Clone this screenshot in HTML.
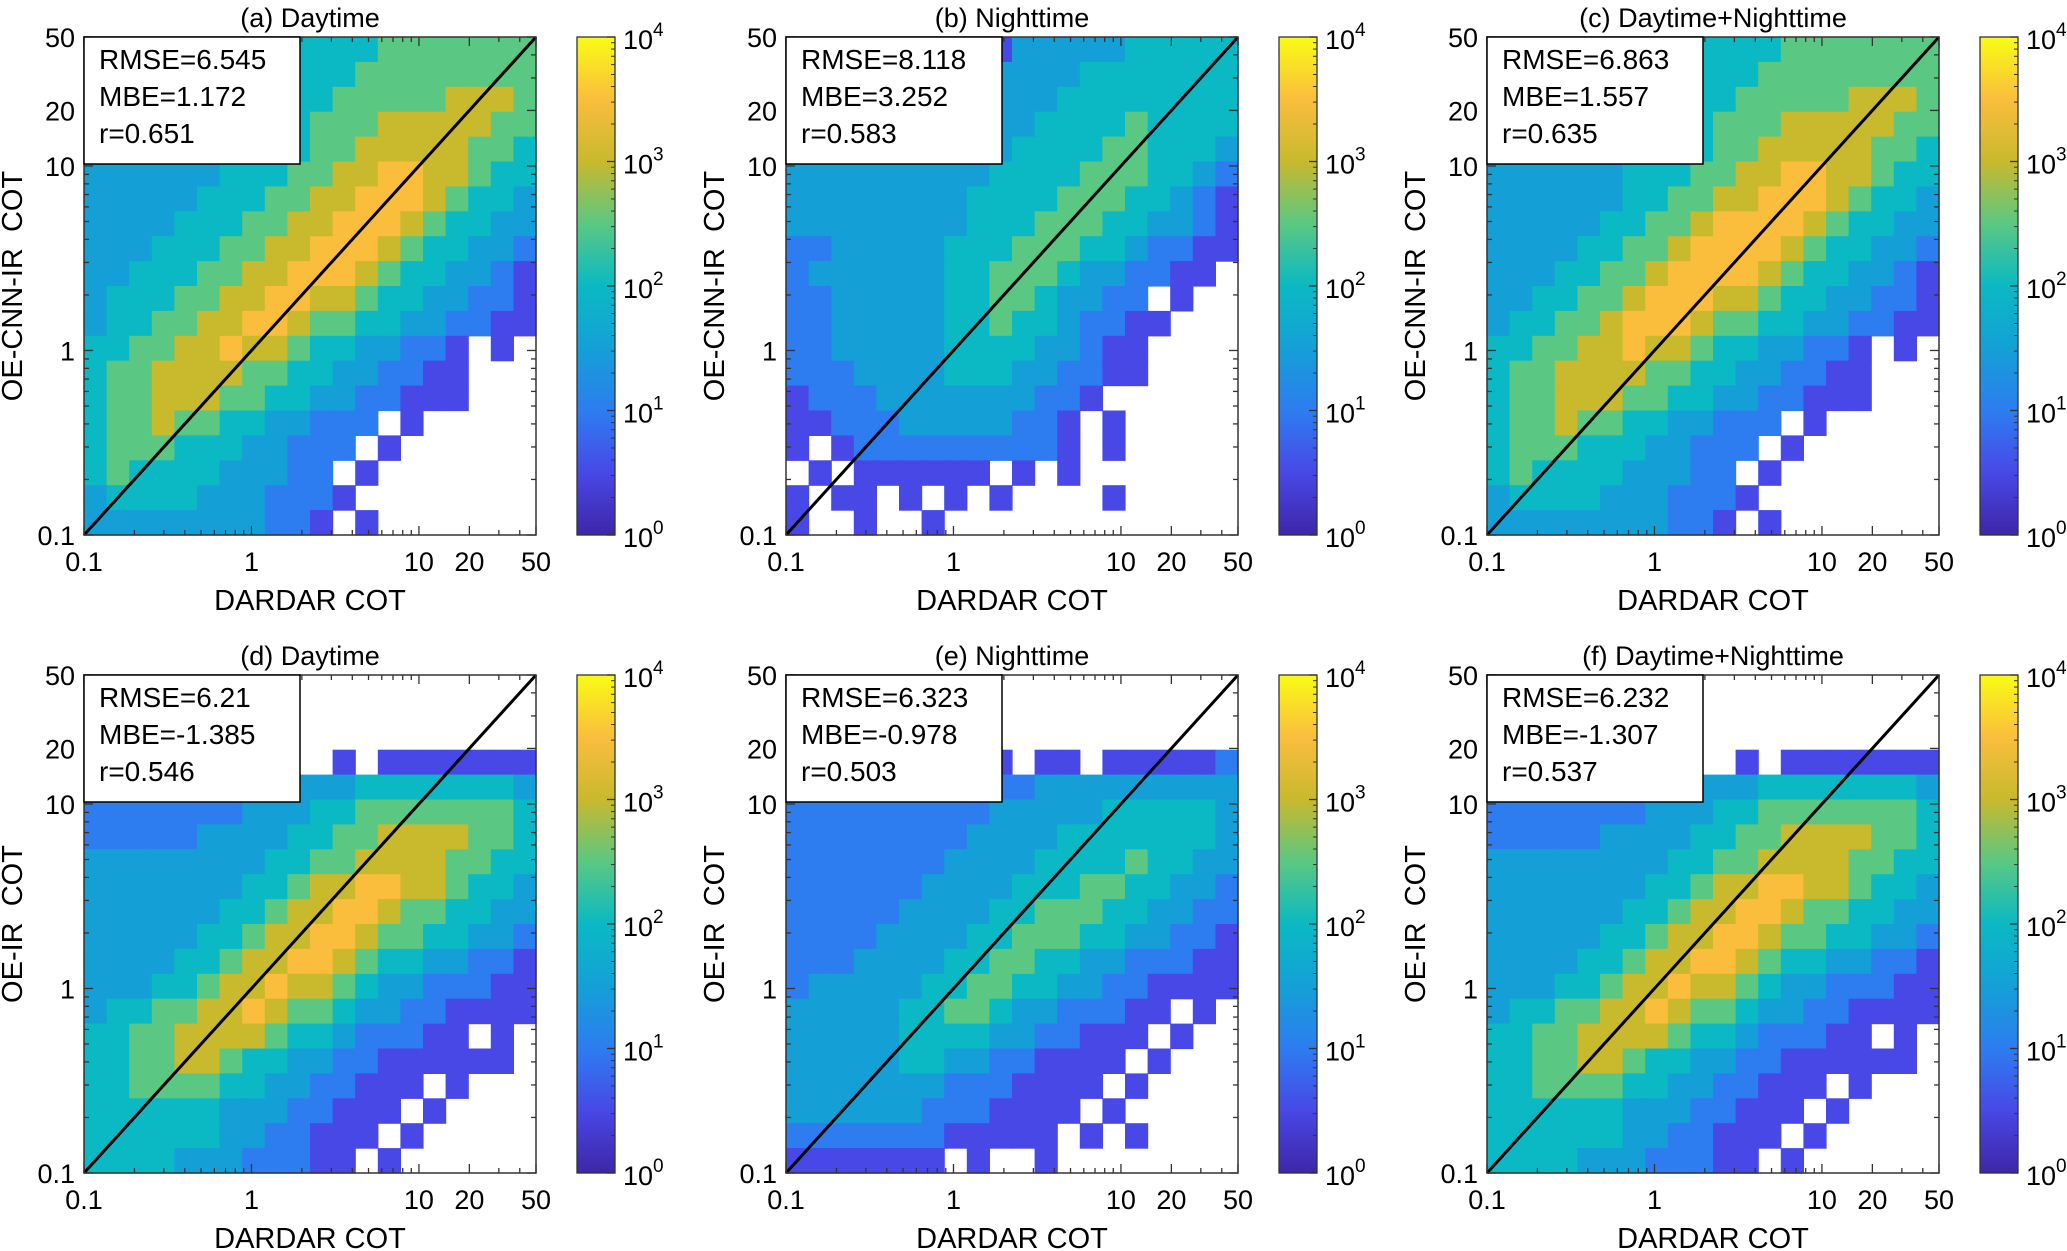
<!DOCTYPE html>
<html><head><meta charset="utf-8">
<style>
html,body{margin:0;padding:0;background:#fff;}
svg{display:block;font-family:"Liberation Sans",Arial,sans-serif;}
text{white-space:pre;}
</style></head>
<body>
<svg id="fig" width="2067" height="1251" viewBox="0 0 2067 1251" xmlns="http://www.w3.org/2000/svg"></svg>
<script>
// ---- data (levels: 2*log10(count), '.' = no samples); rows top (COT 50) -> bottom (COT 0.1)
const titles = ["(a) Daytime","(b) Nighttime","(c) Daytime+Nighttime","(d) Daytime","(e) Nighttime","(f) Daytime+Nighttime"];
const ylabels = ["OE-CNN-IR  COT","OE-CNN-IR  COT","OE-CNN-IR  COT","OE-IR  COT","OE-IR  COT","OE-IR  COT"];
const rmse = ["6.545","8.118","6.863","6.21","6.323","6.232"];
const mbe = ["1.172","3.252","1.557","-1.385","-0.978","-1.307"];
const rval = ["0.651","0.583","0.635","0.546","0.503","0.537"];
const xTicks = [0.1,1,10,20,50];
const xTickLabels = ["0.1","1","10","20","50"];
const minorTicks = [0.2,0.3,0.4,0.5,0.6,0.7,0.8,0.9,2,3,4,5,6,7,8,9,30,40];
const cbTicks = [0,1,2,3,4];
const gridA = [
"33333334444445555555","33333334444455555555","33333334444555556665","33333344445556666655",
"33333344445566666554","33333344455667766544","33333444556677765443","33334445566777654433",
"33344455667776544332","33444556677765443321","34445566776654433221","34455667765544332211",
"44556676654433221.1.","45566665544332211...","45566655443322111...","4556554433222.1.....",
"455544433222.1......","45444433322.1.......","344443332221........","33333333221.1......."];
const gridB = [
"33333332213333344444","33333333333334444444","33333333333344444444","33333333333444454444",
"33333333334444554443","33333333344445554432","33333333444455544321","33333333444555443321",
"22333334445554432211","2333333445554332211.","2233333445543322.1..","22333334454432211...",
"2233333444433211....","2223333444332211....","12223333333221......","1122233333221.1.....",
"1.12222222221.1.....",".1.111111.1.1.......","1.11.1.1.1....1.....","1..1..1............."];
const gridC = [
"33333334444445555555","33333334444455555555","33333334444555556665","33333344445556666655",
"33333344445566666554","33333344455667766544","33333344556677765443","33333445567777654433",
"33334455677776544332","33344556777765443321","33445567776654433221","34455677765544332211",
"44556676654433221.1.","45566665544332211...","45566655443322111...","4556554433222.1.....",
"455544433222.1......","45444433322.1.......","344443332221........","33333333221.1......."];
const gridD = [
"....................","....................","....................","........1..1.1111111",
"22222222233344444443","22222223334455555554","22222333344556666554","33333333445566665544",
"33333334456677665443","33333344566776554433","33333445667765544332","33334456677654433221",
"33344566766543322211","34455667655433221111","44556666544322211.1.","4455665443322111111.",
"445555443322111.1...","44444433322111.1....","4444443322111.1.....","444433322211.1......"];
const gridE = [
"....................","....................","....................",".......1.1.11.111112",
"22222222222333333333","22222222233333444443","22222222333344444443","22222223333444454433",
"22222233334445544332","22222333344555443322","22223333445554433221","22233334455443322211",
"23333344554433221111","33333445543322211.1.","3333344443322111.1..","333334433221111.1...",
"33333332221111.1....","3333332221111.1.....","222222211111.1.1....","1111111.1..1........"];
const gridF = [
"....................","....................","....................","........1..1.1111111",
"22222222233344444443","22222223334455555554","22222333344556666554","33333333445566665544",
"33333334456677665443","33333344566776554433","33333445667765544332","33334456677654433221",
"33344566766543322211","34455667655433221111","44556666544322211.1.","4455665443322111111.",
"445555443322111.1...","44444433322111.1....","4444443322111.1.....","444433322211.1......"];
const grids = [gridA,gridB,gridC,gridD,gridE,gridF];

// ---- layout
const NS="http://www.w3.org/2000/svg";
const svg=document.getElementById('fig');
const panelLeft=[84,786,1487], panelTop=[37,675];
const PW=452, PH=498, CBOFF=493, CBW=38;
const LMIN=Math.log10(0.1), LMAX=Math.log10(50);
const parula=[[62,38,168],[72,72,230],[45,125,240],[20,160,215],[10,185,195],[90,200,130],[200,185,45],[250,190,60],[249,251,21]];
function cmap(t){t=Math.max(0,Math.min(1,t));const p=t*8,i=Math.min(7,Math.floor(p)),f=p-i;const a=parula[i],b=parula[i+1];
 return 'rgb('+a.map((v,k)=>Math.round(v+(b[k]-v)*f)).join(',')+')';}
function el(tag,attrs,parent){const e=document.createElementNS(NS,tag);for(const k in attrs)e.setAttribute(k,attrs[k]);(parent||svg).appendChild(e);return e;}
function txt(s,x,y,size,anchor,parent){const t=el('text',{x:x,y:y,'font-size':size,'text-anchor':anchor||'middle',fill:'#000'},parent);t.textContent=s;return t;}

for(let p=0;p<6;p++){
  const L=panelLeft[p%3], T=panelTop[Math.floor(p/3)];
  const xs=v=>L+(Math.log10(v)-LMIN)/(LMAX-LMIN)*PW;
  const ys=v=>T+PH-(Math.log10(v)-LMIN)/(LMAX-LMIN)*PH;
  const g=el('g',{});
  
  
  const grid=grids[p], nr=grid.length, nc=grid[0].length;
  const cw=PW/nc, ch=PH/nr;
  for(let r=0;r<nr;r++)for(let c=0;c<nc;c++){
    const chv=grid[r][c]; if(chv==='.'||chv===' ')continue;
    const lv=parseInt(chv,10);
    const rc=el('rect',{x:(L+c*cw).toFixed(2),y:(T+r*ch).toFixed(2),width:(cw+0.6).toFixed(2),height:(ch+0.6).toFixed(2),fill:cmap(lv/8)},g);
    
    
  }
  const dl=el('line',{x1:xs(0.1),y1:ys(0.1),x2:xs(50),y2:ys(50),stroke:'#000','stroke-width':3},g);
  
  
  const fr=el('rect',{x:L,y:T,width:PW,height:PH,fill:'none',stroke:'#333','stroke-width':1.5},g);
  
  
  xTicks.concat(minorTicks).forEach(v=>{
    const len=xTicks.indexOf(v)>=0?9:5;
    el('line',{x1:xs(v),y1:T+PH,x2:xs(v),y2:T+PH-len,stroke:'#333','stroke-width':1.3},g);
    el('line',{x1:xs(v),y1:T,x2:xs(v),y2:T+len,stroke:'#333','stroke-width':1.3},g);
    el('line',{x1:L,y1:ys(v),x2:L+len,y2:ys(v),stroke:'#333','stroke-width':1.3},g);
    el('line',{x1:L+PW,y1:ys(v),x2:L+PW-len,y2:ys(v),stroke:'#333','stroke-width':1.3},g);
  });
  xTicks.forEach((v,i)=>{
    const tx=txt(xTickLabels[i],xs(v),T+PH+36,27,'middle',g);
    
    
    const ty=txt(xTickLabels[i],L-9,ys(v)+10,27,'end',g);
    
    
  });
  const xl=txt('DARDAR COT',L+PW/2,T+PH+75,29,'middle',g);
  
  
  const yl=txt(ylabels[p],0,0,29,'middle',g);
  yl.setAttribute('transform','translate('+(L-62)+','+(T+PH/2)+') rotate(-90)');
  
  
  const tt=txt(titles[p],L+PW/2,T-10,27,'middle',g);
  
  
  const bx=el('rect',{x:L,y:T,width:216,height:127,fill:'#fff',stroke:'#000','stroke-width':1.5},g);
  
  
  [['RMSE=',rmse[p]],['MBE=',mbe[p]],['r=',rval[p]]].forEach((s,i)=>{
    const st=txt(s[0]+s[1],L+15,T+32+i*37,28,'start',g);
    
    
  });
  const cx=L+CBOFF;
  const gid='cbg'+p;
  const defs=el('defs',{},g);
  const lg=el('linearGradient',{id:gid,x1:0,y1:1,x2:0,y2:0},defs);
  for(let k=0;k<=8;k++)el('stop',{offset:k/8,'stop-color':cmap(k/8)},lg);
  const cb=el('rect',{x:cx,y:T,width:CBW,height:PH,fill:'url(#'+gid+')',stroke:'#333','stroke-width':1.3},g);
  
  
  cbTicks.forEach(e=>{
    const yy=T+PH-e/4*PH;
    el('line',{x1:cx+CBW,y1:yy,x2:cx+CBW-8,y2:yy,stroke:'#333','stroke-width':1.3},g);
    if(e<4)for(let m=2;m<10;m++){const ym=yy-Math.log10(m)/4*PH;el('line',{x1:cx+CBW,y1:ym,x2:cx+CBW-4,y2:ym,stroke:'#333','stroke-width':1},g);}
    const lab=el('text',{x:cx+CBW+8,y:yy+12,'font-size':27,fill:'#000'},g);
    
    
    const b=el('tspan',{},lab);b.textContent='10';
    const s=el('tspan',{dy:-13,'font-size':19},lab);s.textContent=String(e);
  });
}
</script>
</body></html>
